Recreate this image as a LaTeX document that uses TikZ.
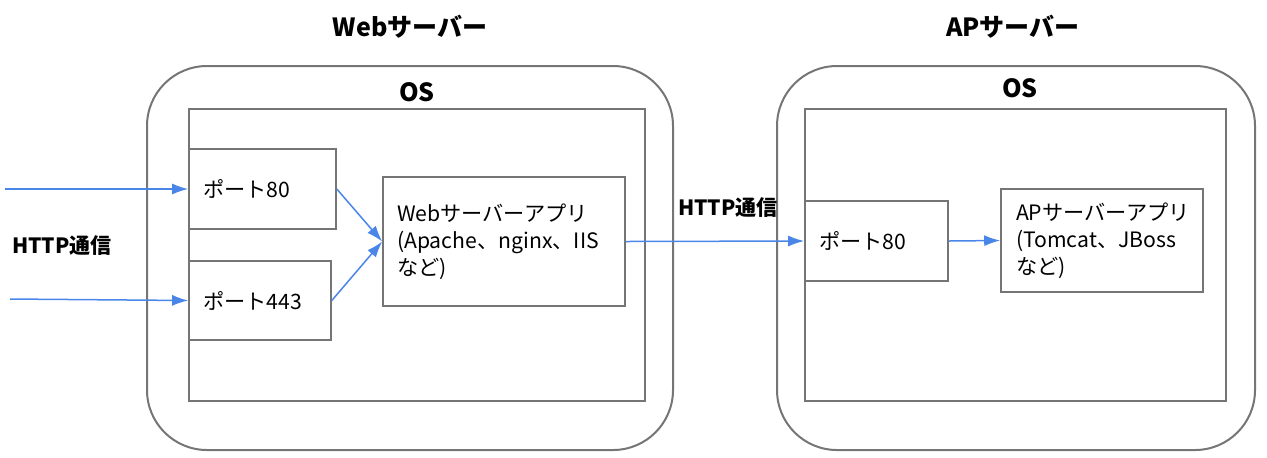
\documentclass[tikz,border=0pt]{standalone}
\usepackage{fontspec}
\setmainfont{Noto Sans CJK JP}
\usetikzlibrary{arrows.meta}

\definecolor{boxgray}{HTML}{757575}
\definecolor{linkblue}{HTML}{4A86E8}

\begin{document}
\begin{tikzpicture}[x=0.5pt,y=-0.5pt,
    server/.style={draw=boxgray,line width=1pt,rounded corners=30pt},
    osarea/.style={draw=boxgray,line width=0.8pt},
    portbox/.style={draw=boxgray,line width=0.8pt,fill=white,inner sep=0pt,
      font=\fontsize{10.6}{13.5}\selectfont,align=left},
    title/.style={font=\bfseries\fontsize{12.5}{15}\selectfont},
    label/.style={font=\bfseries\fontsize{10.5}{13}\selectfont},
    link/.style={draw=linkblue,line width=0.75pt,-{Latex[length=8pt,width=5.5pt]}}]
  \useasboundingbox (0,0) rectangle (1267,457);

  %%%%%%%%%%%%%%%%%%%%%%%%%%%%%%%%%%%%%%%%%%%%%%%%%%%%%%%%%%%%%%%%%%%%%%%%%%%
  %%%%  Servers
  \node[title] (webtitle) at (410,27) {Webサーバー};
  \node[title] (aptitle) at (1013,27) {APサーバー};
  \draw[server] (147,66) rectangle (673,450);
  \draw[server] (777,66) rectangle (1255,450);
  \draw[osarea] (189,109) rectangle (645,401);
  \draw[osarea] (805,109) rectangle (1226,401);
  \node[title] (webos) at (417,92) {OS};
  \node[title] (apos) at (1020,88) {OS};

  %%%%%%%%%%%%%%%%%%%%%%%%%%%%%%%%%%%%%%%%%%%%%%%%%%%%%%%%%%%%%%%%%%%%%%%%%%%
  %%%%  Boxes
  \node[portbox,minimum width=73.5pt,minimum height=40pt,
    text width=59.5pt] (webport80) at (262.5,189) {ポート80};
  \node[portbox,minimum width=71pt,minimum height=39.5pt,
    text width=57pt] (webport443) at (260,300.5) {ポート443};
  \node[portbox,minimum width=121pt,minimum height=64.5pt,
    text width=107pt] (webapp) at (504,241.5)
    {Webサーバーアプリ\\(Apache、nginx、IIS\\など)};
  \node[portbox,minimum width=71.5pt,minimum height=40pt,
    text width=57.5pt] (apport80) at (876.5,241) {ポート80};
  \node[portbox,minimum width=101pt,minimum height=51.5pt,
    text width=86pt] (apapp) at (1102,240.5)
    {APサーバーアプリ\\(Tomcat、JBoss\\など)};

  %%%%%%%%%%%%%%%%%%%%%%%%%%%%%%%%%%%%%%%%%%%%%%%%%%%%%%%%%%%%%%%%%%%%%%%%%%%
  %%%%  Links
  \coordinate (in80) at (5,189);
  \coordinate (in443) at (10,299);
  \draw[link] (in80) -- (webport80.west);
  \draw[link] (in443) -- (webport443.west);
  \node[label] (inhttp) at (62,246) {HTTP通信};
  \draw[link] (webport80.east) -- (webapp.west);
  \draw[link] (webport443.east) -- (webapp.west);
  \draw[link] (webapp.east) -- (apport80.west);
  \node[label] (aphttp) at (728,208) {HTTP通信};
  \draw[link] (apport80.east) -- (apapp.west);
\end{tikzpicture}
\end{document}
